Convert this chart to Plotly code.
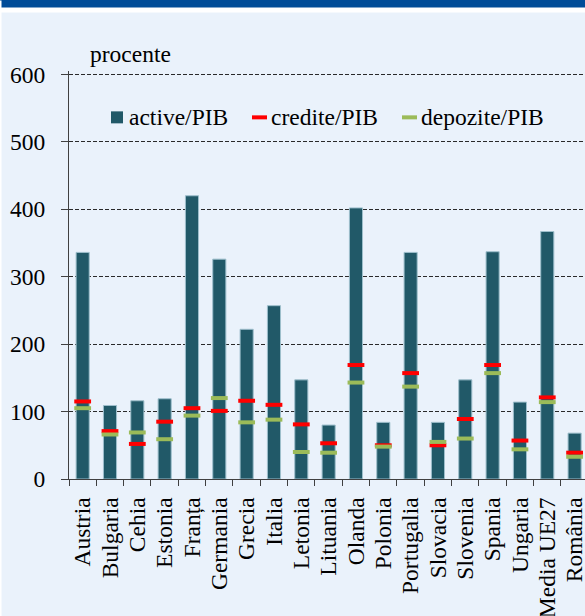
import plotly.graph_objects as go

categories = ["Austria", "Bulgaria", "Cehia", "Estonia", "Franța", "Germania", "Grecia",
              "Italia", "Letonia", "Lituania", "Olanda", "Polonia", "Portugalia", "Slovacia",
              "Slovenia", "Spania", "Ungaria", "Media UE27", "România"]
active_pib = [336, 109, 116, 119, 420, 326, 222, 257, 147, 80, 402, 84, 336, 84, 147, 337, 114, 367, 68]
credite_pib = [115, 71, 52, 85, 105, 101, 116, 110, 81, 53, 169, 50, 157, 50, 89, 169, 57, 121, 39]
depozite_pib = [105, 66, 69, 59, 94, 120, 84, 88, 40, 39, 143, 48, 137, 55, 60, 157, 44, 114, 33]
y_ticks = [0, 100, 200, 300, 400, 500, 600]
series_names = ["active/PIB", "credite/PIB", "depozite/PIB"]

BG = "#EAF2FB"
BAR = "#215968"
RED = "#FF0000"
GREEN = "#9BBB59"
FONT = "Liberation Serif, Times New Roman, serif"
FS = 23.5

# pixel geometry helpers
L, R, T, B = 69, 585, 70.6, 479
W, H = R - L, B - T
def fx(px):
    return (px - L) / W
def fy(py):
    return (B - py) / H

fig = go.Figure()
fig.add_trace(go.Bar(
    x=categories, y=active_pib, name=series_names[0],
    marker=dict(color=BAR, line=dict(color="#9EBFCC", width=1)),
    width=0.48,
))
fig.add_trace(go.Scatter(
    x=categories, y=credite_pib, name=series_names[1], mode="markers",
    marker=dict(symbol="line-ew", size=12, color=RED,
                line=dict(color=RED, width=4)),
))
fig.add_trace(go.Scatter(
    x=categories, y=depozite_pib, name=series_names[2], mode="markers",
    marker=dict(symbol="line-ew", size=12, color=GREEN,
                line=dict(color=GREEN, width=4)),
))

legend_y = 117
shapes = [
    dict(type="rect", xref="paper", yref="paper", x0=fx(-5), x1=fx(600),
         y0=fy(12), y1=fy(-5), fillcolor="white", line=dict(width=0), layer="above"),
    dict(type="rect", xref="paper", yref="paper", x0=fx(-5), x1=fx(600),
         y0=fy(7), y1=fy(-5), fillcolor="#004C98", line=dict(width=0), layer="above"),
    dict(type="rect", xref="paper", yref="paper", x0=fx(-5), x1=fx(1.5),
         y0=fy(620), y1=fy(0), fillcolor="white", line=dict(width=0), layer="above"),
    # legend symbols
    dict(type="rect", xref="paper", yref="paper", x0=fx(111), x1=fx(123),
         y0=fy(123), y1=fy(111), fillcolor=BAR, line=dict(width=0), layer="above"),
    dict(type="line", xref="paper", yref="paper", x0=fx(252), x1=fx(267),
         y0=fy(legend_y), y1=fy(legend_y), line=dict(color=RED, width=4), layer="above"),
    dict(type="line", xref="paper", yref="paper", x0=fx(402), x1=fx(417),
         y0=fy(legend_y), y1=fy(legend_y), line=dict(color=GREEN, width=4), layer="above"),
]

annotations = [
    dict(text="procente", xref="paper", yref="paper", x=fx(88), y=fy(54),
         xanchor="left", yanchor="middle", showarrow=False,
         font=dict(family=FONT, size=FS, color="black")),
]
for name, px in zip(series_names, [127, 269, 419]):
    annotations.append(dict(text=name, xref="paper", yref="paper", x=fx(px), y=fy(legend_y),
                            xanchor="left", yanchor="middle", showarrow=False,
                            font=dict(family=FONT, size=FS, color="black")))

fig.update_layout(
    width=585, height=616,
    margin=dict(l=L, r=585 - R, t=T, b=616 - B, pad=0, autoexpand=False),
    paper_bgcolor=BG, plot_bgcolor=BG,
    font=dict(family=FONT, size=FS, color="black"),
    showlegend=False,
    xaxis=dict(
        range=[-0.5, -0.5 + W / 27.33], tickangle=-90, showgrid=False,
        tickmode="array", tickvals=categories, ticktext=categories,
        showline=True, linecolor="#404040", linewidth=1,
        ticks="outside", tickson="boundaries", ticklen=6, tickcolor="#404040",
        ticklabelstandoff=8, automargin=False,
        tickfont=dict(family=FONT, size=FS, color="black"),
        fixedrange=True,
    ),
    yaxis=dict(
        range=[0, 605], tickvals=y_ticks, showgrid=True,
        gridcolor="#2A2A2A", griddash="4px,2px", gridwidth=1,
        showline=True, linecolor="#404040", linewidth=1,
        ticks="outside", ticklen=7, tickcolor="#404040", ticklabelstandoff=11,
        automargin=False,
        tickfont=dict(family=FONT, size=FS, color="black"),
        zeroline=False, fixedrange=True,
    ),
    shapes=shapes,
    annotations=annotations,
)

fig.write_html("out.html", config={"displayModeBar": False},
               post_script="document.body.style.margin='0';document.body.style.overflow='hidden';")
